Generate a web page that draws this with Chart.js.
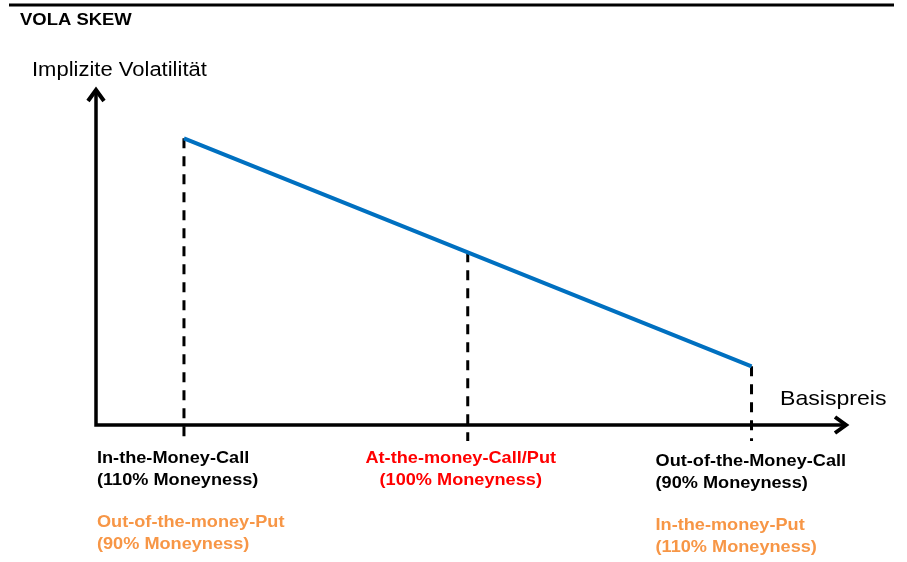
<!DOCTYPE html>
<html>
<head>
<meta charset="utf-8">
<script src="https://cdn.jsdelivr.net/npm/chart.js@4"></script>
<style>
  html, body { margin:0; padding:0; background:#fff; }
  #wrap { width:907px; height:562px; position:relative; }
</style>
</head>
<body>
<div id="wrap"><canvas id="skewChart"></canvas></div>
<script>
// data
const moneyness = [110, 100, 90];          // Basispreis (x)
const impliedVol = [85.5, 51.5, 17.5];     // implizite Volatilitaet (relativ)
const title = 'VOLA SKEW';
const yTitle = 'Implizite Volatilität';
const xTitle = 'Basispreis';
const callLabels = [
  ['In-the-Money-Call', '(110% Moneyness)'],
  ['At-the-money-Call/Put', '(100% Moneyness)'],
  ['Out-of-the-Money-Call', '(90% Moneyness)']
];
const putLabels = [
  ['Out-of-the-money-Put', '(90% Moneyness)'],
  [],
  ['In-the-money-Put', '(110% Moneyness)']
];

const FONT = '"Liberation Sans", Arial, sans-serif';
const ORANGE = '#f79646';

// stretched text like in the original picture
function stretchText(ctx, txt, x, y, sx, align){
  ctx.save();
  ctx.translate(x, y);
  ctx.scale(sx, 1);
  ctx.textAlign = align || 'left';
  ctx.fillText(txt, 0, 0);
  ctx.restore();
}

const decorPlugin = {
  id: 'decor',
  beforeDatasetsDraw(chart){
    const ctx = chart.ctx;
    const a = chart.chartArea;
    const pts = chart.getDatasetMeta(0).data;
    ctx.save();
    // dashed drop lines
    ctx.strokeStyle = '#000';
    ctx.lineWidth = 3;
    ctx.setLineDash([10, 8]);
    pts.forEach(p => {
      ctx.beginPath();
      ctx.moveTo(p.x, p.y);
      ctx.lineTo(p.x, a.bottom + 16);
      ctx.stroke();
    });
    ctx.setLineDash([]);
    // axes with arrows
    ctx.lineWidth = 3.5;
    ctx.lineCap = 'butt';
    ctx.beginPath();
    ctx.moveTo(a.left, a.top + 2);
    ctx.lineTo(a.left, a.bottom);
    ctx.lineTo(a.right - 2, a.bottom);
    ctx.stroke();
    ctx.lineJoin = 'miter';
    ctx.lineWidth = 4;
    ctx.beginPath();
    ctx.moveTo(a.left - 8, a.top + 13);
    ctx.lineTo(a.left, a.top + 2);
    ctx.lineTo(a.left + 8, a.top + 13);
    ctx.moveTo(a.right - 13, a.bottom - 8);
    ctx.lineTo(a.right - 2, a.bottom);
    ctx.lineTo(a.right - 13, a.bottom + 8);
    ctx.stroke();
    ctx.restore();
  },
  afterDraw(chart){
    const ctx = chart.ctx;
    const a = chart.chartArea;
    const pts = chart.getDatasetMeta(0).data;
    ctx.save();
    // top rule
    ctx.strokeStyle = '#000';
    ctx.lineWidth = 3;
    ctx.beginPath();
    ctx.moveTo(9, 5);
    ctx.lineTo(894, 5);
    ctx.stroke();

    ctx.textBaseline = 'middle';
    ctx.fillStyle = '#000';
    ctx.font = 'bold 16.8px ' + FONT;
    stretchText(ctx, title, 20, 20, 1.1);
    ctx.font = '20px ' + FONT;
    stretchText(ctx, yTitle, 32, 70, 1.1);
    ctx.font = '21px ' + FONT;
    stretchText(ctx, xTitle, 780, 399, 1.1);

    // category labels under the axis
    ctx.font = 'bold 16.5px ' + FONT;
    const sx = 1.1;
    const lh = 22;
    pts.forEach((p, i) => {
      const calls = callLabels[i];
      const puts = putLabels[i];
      if (i === 1) {
        ctx.fillStyle = '#ff0000';
        calls.forEach((t, k) => stretchText(ctx, t, p.x - 7, a.bottom + 33 + k * lh, sx, 'center'));
        return;
      }
      const dx = i === 0 ? -87 : -96;
      const dy = i === 0 ? 33 : 36;
      ctx.fillStyle = '#000';
      calls.forEach((t, k) => stretchText(ctx, t, p.x + dx, a.bottom + dy + k * lh, sx));
      ctx.fillStyle = ORANGE;
      puts.forEach((t, k) => stretchText(ctx, t, p.x + dx, a.bottom + dy + 64 + k * lh, sx));
    });
    ctx.restore();
  }
};

const ctx = document.getElementById('skewChart').getContext('2d');
const chart = new Chart(ctx, {
  type: 'line',
  data: {
    datasets: [{
      label: 'Vola Skew',
      data: moneyness.map((m, i) => ({ x: m, y: impliedVol[i] })),
      borderColor: '#0070c0',
      borderWidth: 4,
      pointRadius: 0,
      fill: false,
      tension: 0
    }]
  },
  options: {
    responsive: true,
    maintainAspectRatio: false,
    animation: false,
    layout: { padding: { left: 96, right: 59, top: 88, bottom: 137 } },
    plugins: { legend: { display: false }, tooltip: { enabled: false } },
    scales: {
      x: { type: 'linear', reverse: true, min: 86.6, max: 113.1, display: false },
      y: { min: 0, max: 100.5, display: false }
    }
  },
  plugins: [decorPlugin]
});
</script>
</body>
</html>
